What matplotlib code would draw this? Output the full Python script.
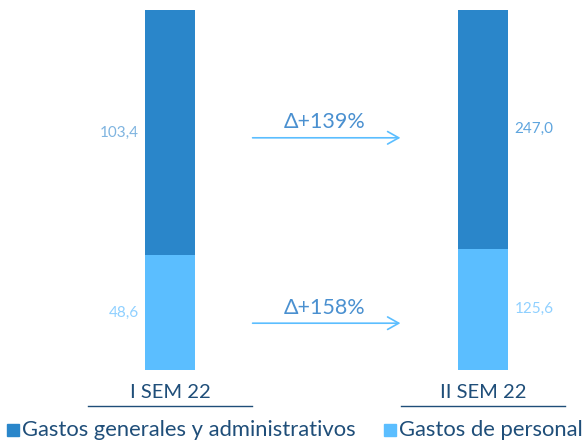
import matplotlib.pyplot as plt
from matplotlib.patches import Rectangle

# datos
semestres = ['I SEM 22', 'II SEM 22']
personal = [48.6, 125.6]
generales = [103.4, 247.0]
variaciones = ['Δ+158%', 'Δ+139%']  # personal, generales
series = ['Gastos generales y administrativos', 'Gastos de personal']

c_oscuro = '#2A86CA'
c_claro = '#5BBEFF'
c_texto = '#1F4E79'

plt.rcParams['font.family'] = ['Lato', 'DejaVu Sans']

W, H = 586, 443
fig = plt.figure(figsize=(W / 100, H / 100), dpi=100)
ax = fig.add_axes([0, 73 / H, 1, 360 / H])

x = [0, 1]
total = [p + g for p, g in zip(personal, generales)]
pct_p = [p / t for p, t in zip(personal, total)]
pct_g = [g / t for g, t in zip(generales, total)]

ax.bar(x, pct_p, width=0.16, color=c_claro)
ax.bar(x, pct_g, width=0.16, bottom=pct_p, color=c_oscuro)
ax.set_xlim(-0.543, 1.329)
ax.set_ylim(0, 1)
ax.axis('off')

# etiquetas de valores
fmt = lambda v: f'{v:.1f}'.replace('.', ',')
ax.text(-0.1, pct_p[0] / 2, fmt(personal[0]), ha='right', va='center',
        fontsize=11, color='#8FD0FF')
ax.text(-0.1, pct_p[0] + pct_g[0] / 2, fmt(generales[0]), ha='right', va='center',
        fontsize=11, color='#7FB4E0')
ax.text(1.1, pct_p[1] / 2, fmt(personal[1]), ha='left', va='center',
        fontsize=11, color='#8FD0FF')
ax.text(1.1, pct_p[1] + pct_g[1] / 2, fmt(generales[1]), ha='left', va='center',
        fontsize=11, color='#5FA5DE')

# flechas de variacion
for yv, lab in [(0.13, variaciones[0]), (0.645, variaciones[1])]:
    ax.annotate('', xy=(0.745, yv), xytext=(0.255, yv),
                arrowprops=dict(arrowstyle='->,head_length=0.8,head_width=0.45',
                                color=c_claro, lw=1.2))
    ax.text(0.495, yv + 0.015, lab, ha='center', va='bottom',
            fontsize=15.5, color='#4A90D0')

# etiquetas de categorias con subrayado
for xi, lab in zip(x, semestres):
    ax.text(xi, -0.062, lab, ha='center', va='center', fontsize=14.5,
            color=c_texto, clip_on=False)
fig.add_artist(plt.Line2D([88 / W, 252 / W], [1 - 406 / H] * 2, color=c_texto, lw=1))
fig.add_artist(plt.Line2D([401 / W, 565 / W], [1 - 406 / H] * 2, color=c_texto, lw=1))

# leyenda
y_ley = 1 - 430 / H
for x0, col, lab in [(7, c_oscuro, series[0]), (384, c_claro, series[1])]:
    fig.add_artist(Rectangle((x0 / W, 1 - 436 / H), 12 / W, 12 / H,
                             transform=fig.transFigure, color=col))
    fig.text((x0 + 15) / W, y_ley, lab, ha='left', va='center',
             fontsize=15.8, color=c_texto)

fig.savefig('out.png', dpi=100)
